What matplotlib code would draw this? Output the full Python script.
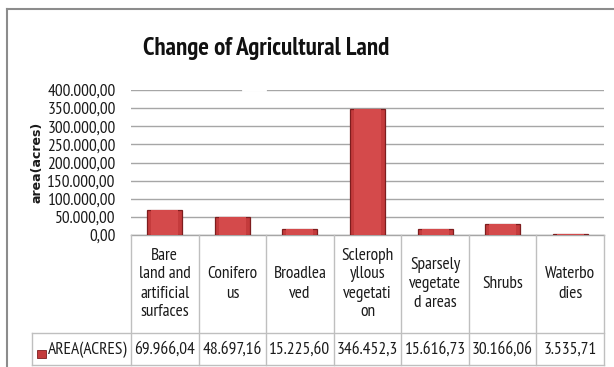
import matplotlib.pyplot as plt
import matplotlib.ticker as mticker
from matplotlib.lines import Line2D
from matplotlib.patches import Rectangle
import numpy as np

plt.rcParams['font.family'] = ['PT Sans Narrow', 'Carlito', 'DejaVu Sans']

# data
categories = ["Bare\nland and\nartificial\nsurfaces", "Conifero\nus", "Broadlea\nved",
              "Scleroph\nyllous\nvegetati\non", "Sparsely\nvegetate\nd areas",
              "Shrubs", "Waterbo\ndies"]
area = [69966.04, 48697.16, 15225.60, 346452.3, 15616.73, 30166.06, 3535.71]
value_labels = ["69.966,04", "48.697,16", "15.225,60", "346.452,3",
                "15.616,73", "30.166,06", "3.535,71"]
series_name = "AREA(ACRES)"

W, H = 614, 367
fig = plt.figure(figsize=(W / 100, H / 100), dpi=100)

def fx(px):
    return px / W

def fy(py):
    return 1 - py / H

# plot area in pixel positions
left, right, top, zero = 131, 604, 90, 235
ax = fig.add_axes([fx(left), fy(zero), fx(right - left), (zero - top) / H])

x = np.arange(len(area))
bar_red = '#c43b3c'
ax.bar(x, area, width=0.52, color=bar_red, edgecolor='#7d1d1e', linewidth=0.9, zorder=3)
ax.bar(x, area, width=0.40, color='#d44a4b', linewidth=0, zorder=4)

ax.set_xlim(-0.5, len(area) - 0.5)
ax.set_ylim(0, 400000)
ax.yaxis.set_major_locator(mticker.MultipleLocator(50000))

def euro_fmt(v, pos):
    s = f"{v:,.2f}"
    return s.replace(",", "X").replace(".", ",").replace("X", ".")

ax.yaxis.set_major_formatter(mticker.FuncFormatter(euro_fmt))
ax.tick_params(axis='y', length=0, labelsize=12.5, pad=11, colors='#1a1a1a')
ax.set_xticks([])
ax.grid(axis='y', color='#a6a6a6', linewidth=1.0, zorder=0)
for s in ['left', 'right', 'top']:
    ax.spines[s].set_visible(False)
ax.spines['bottom'].set_color('#a6a6a6')
ax.spines['bottom'].set_linewidth(1.0)

# short break in the top gridline
fig.add_artist(Line2D([fx(243), fx(265)], [fy(90), fy(90)], color='white', linewidth=2))

fig.text(fx(37), fy(162), "area(acres)", rotation=90, ha='center', va='center',
         fontsize=9, fontweight='bold', family='DejaVu Sans', color='#1a1a1a')

fig.text(fx(266), fy(48), "Change of Agricultural Land", ha='center', va='center',
         fontsize=18, fontweight='bold', color='#111111')

# data table under the axis
grid_c = '#bfbfbf'
row_top, table_bot, leg_left = 333, 365, 32
col_w = (right - left) / len(area)
for i in range(len(area) + 1):
    xp = left + i * col_w
    fig.add_artist(Line2D([fx(xp), fx(xp)], [fy(zero), fy(table_bot)], color=grid_c, linewidth=1))
for yp in (row_top, table_bot):
    fig.add_artist(Line2D([fx(leg_left), fx(right)], [fy(yp), fy(yp)], color=grid_c, linewidth=1))
fig.add_artist(Line2D([fx(leg_left), fx(leg_left)], [fy(row_top), fy(table_bot)], color=grid_c, linewidth=1))

for i, (cat, lab) in enumerate(zip(categories, value_labels)):
    cx = left + (i + 0.5) * col_w
    fig.text(fx(cx), fy(284), cat, ha='center', va='center', fontsize=12.5,
             linespacing=1.25, color='#1a1a1a')
    fig.text(fx(cx), fy(350), lab, ha='center', va='center', fontsize=12.5, color='#1a1a1a')

fig.add_artist(Rectangle((fx(37), fy(358)), fx(9), 8 / H, facecolor=bar_red,
                         edgecolor='#7d1d1e', linewidth=0.6))
fig.text(fx(48), fy(350), series_name, ha='left', va='center', fontsize=12.5, color='#1a1a1a')

# outer chart frame
fig.add_artist(Line2D([fx(7), fx(7)], [fy(9), 0], color='#8c8c8c', linewidth=1.5))
fig.add_artist(Line2D([fx(7), 1], [fy(9), fy(9)], color='#8c8c8c', linewidth=1.5))

fig.savefig("out.png", dpi=100)
